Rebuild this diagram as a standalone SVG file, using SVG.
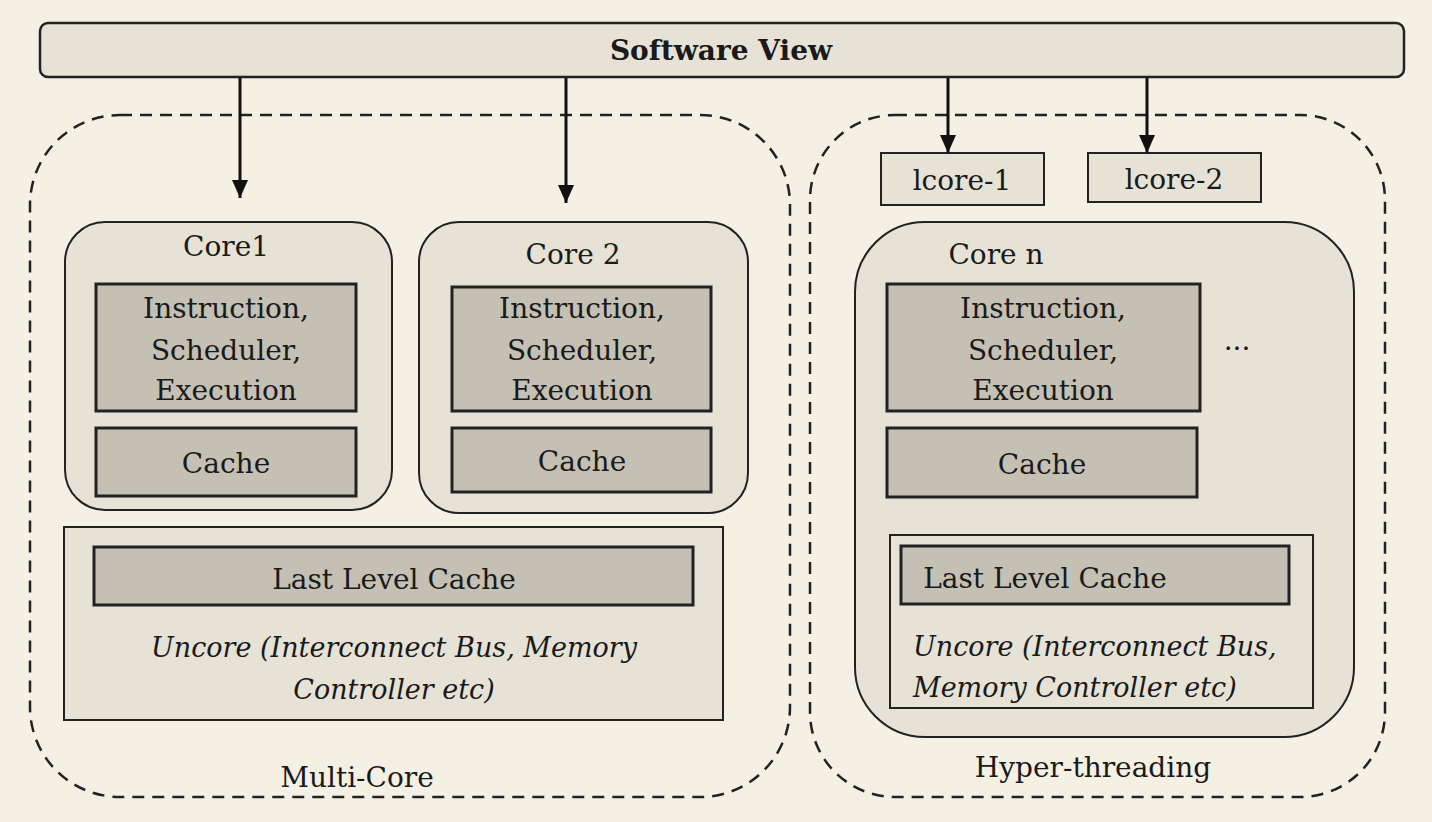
<svg xmlns="http://www.w3.org/2000/svg" width="1432" height="822" viewBox="0 0 1432 822">
<style>
text{font-family:"DejaVu Serif","Liberation Serif",serif;fill:#1a1a1a;font-size:28px;text-anchor:middle}
.it{font-style:italic;font-size:27px}
.lbl{fill:#e6e2d6;stroke:#222;stroke-width:2}
.dark{fill:#c4c0b4;stroke:#222;stroke-width:3}
.dash{fill:none;stroke:#222;stroke-width:2.5;stroke-dasharray:12 8}
.conn{stroke:#111;stroke-width:3;fill:none;marker-end:url(#ah)}
</style>
<defs>
<marker id="ah" markerWidth="18" markerHeight="16" refX="18" refY="8" orient="auto" markerUnits="userSpaceOnUse" viewBox="0 0 18 16">
<path d="M0,0 L18,8 L0,16 z" fill="#111"/>
</marker>
</defs>
<rect width="1432" height="822" fill="#f5f0e4"/>
<g id="multicore">
<rect class="dash" x="30" y="115" width="760" height="682" rx="90"/>
<text x="357" y="787">Multi-Core</text>
</g>
<g id="hyperthreading">
<rect class="dash" x="810" y="115" width="575" height="682" rx="85"/>
<text x="1093" y="777">Hyper-threading</text>
</g>
<g id="software-view">
<rect x="40" y="23" width="1364" height="54" rx="8" fill="#e6e2d6" stroke="#222" stroke-width="2.5"/>
<text x="721" y="60" font-weight="bold">Software View</text>
</g>
<g id="core1">
<rect class="lbl" x="65" y="222" width="327" height="288" rx="40"/>
<text x="226" y="256">Core1</text>
<rect class="dark" x="96" y="284" width="260" height="127"/>
<text x="226" y="318">Instruction,</text>
<text x="226" y="360">Scheduler,</text>
<text x="226" y="400">Execution</text>
<rect class="dark" x="96" y="428" width="260" height="68"/>
<text x="226" y="473">Cache</text>
</g>
<g id="core2">
<rect class="lbl" x="419" y="222" width="329" height="291" rx="40"/>
<text x="573" y="264">Core 2</text>
<rect class="dark" x="452" y="287" width="259" height="124"/>
<text x="582" y="318">Instruction,</text>
<text x="582" y="360">Scheduler,</text>
<text x="582" y="400">Execution</text>
<rect class="dark" x="452" y="428" width="259" height="64"/>
<text x="582" y="471">Cache</text>
</g>
<g id="uncore-left">
<rect class="lbl" x="64" y="527" width="659" height="193"/>
<rect class="dark" x="94" y="547" width="599" height="58"/>
<text x="394" y="589">Last Level Cache</text>
<text class="it" x="394" y="657">Uncore (Interconnect Bus, Memory</text>
<text class="it" x="394" y="699">Controller etc)</text>
</g>
<g id="lcore1">
<rect class="lbl" x="881" y="153" width="163" height="52"/>
<text x="962" y="190">lcore-1</text>
</g>
<g id="lcore2">
<rect class="lbl" x="1088" y="153" width="173" height="49"/>
<text x="1174" y="189">lcore-2</text>
</g>
<g id="coren">
<rect class="lbl" x="855" y="222" width="499" height="515" rx="70"/>
<text x="996" y="264">Core n</text>
<rect class="dark" x="887" y="284" width="313" height="127"/>
<text x="1043" y="318">Instruction,</text>
<text x="1043" y="360">Scheduler,</text>
<text x="1043" y="400">Execution</text>
<rect class="dark" x="887" y="428" width="310" height="69"/>
<text x="1042" y="474">Cache</text>
<text x="1237" y="350">...</text>
<rect class="lbl" x="890" y="535" width="423" height="173"/>
<rect class="dark" x="901" y="546" width="388" height="58"/>
<text x="1045" y="588">Last Level Cache</text>
<text class="it" x="913" y="656" style="text-anchor:start">Uncore (Interconnect Bus,</text>
<text class="it" x="913" y="697" style="text-anchor:start">Memory Controller etc)</text>
</g>
<g id="connectors">
<line class="conn" x1="240" y1="78" x2="240" y2="198"/>
<line class="conn" x1="566" y1="78" x2="566" y2="203"/>
<line class="conn" x1="948" y1="78" x2="948" y2="153"/>
<line class="conn" x1="1147" y1="78" x2="1147" y2="153"/>
</g>
</svg>
